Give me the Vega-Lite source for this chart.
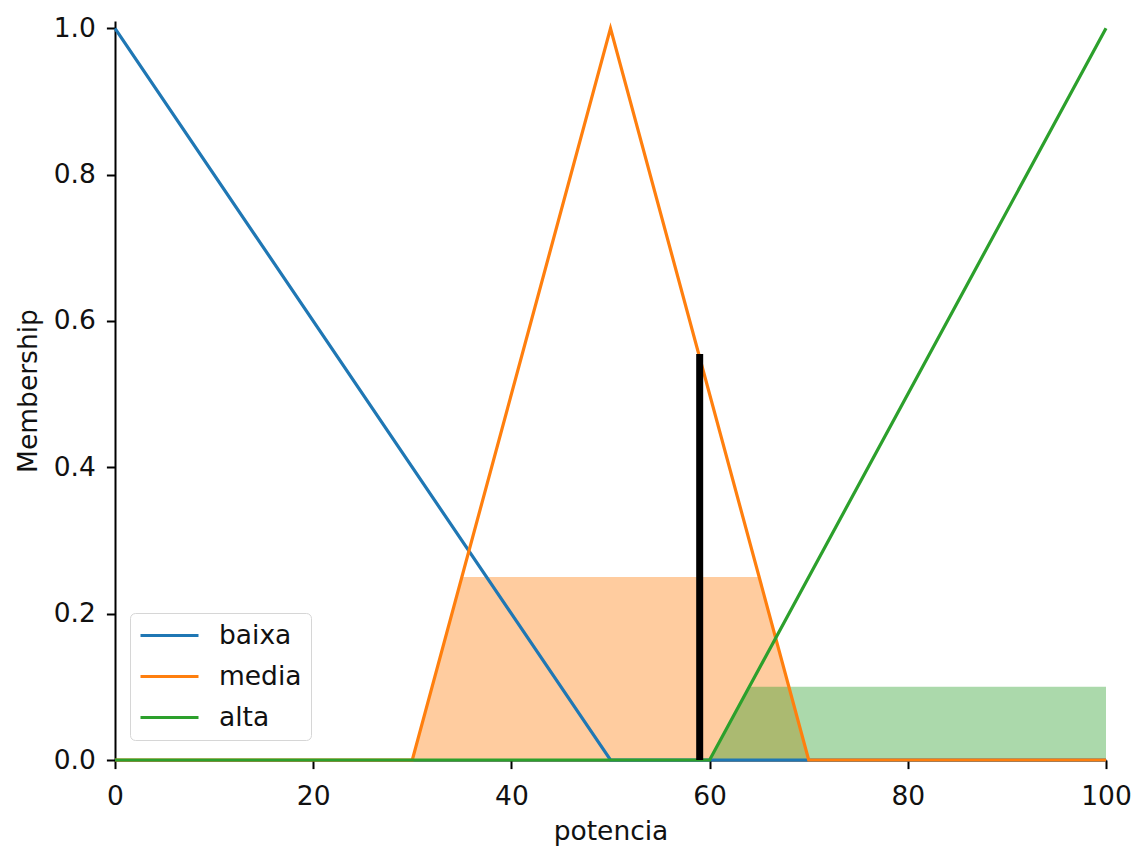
{
  "$schema": "https://vega.github.io/schema/vega-lite/v6.json",
  "width": 991,
  "height": 739,
  "autosize": {"type": "none"},
  "padding": {"left": 115, "top": 21, "right": 30, "bottom": 86},
  "background": "white",
  "config": {
    "font": "DejaVu Sans",
    "view": {"stroke": null},
    "axis": {
      "grid": false,
      "domainColor": "black",
      "domainWidth": 2,
      "tickColor": "black",
      "tickWidth": 2,
      "tickSize": 8.6,
      "labelFont": "DejaVu Sans",
      "labelFontSize": 26.5,
      "labelColor": "#111111",
      "labelFlush": false,
      "labelOverlap": false,
      "titleFont": "DejaVu Sans",
      "titleFontSize": 26.5,
      "titleFontWeight": "normal",
      "titleColor": "#111111"
    }
  },
  "datasets": {
    "lines": [
      {"term": "baixa", "x": 0, "y": 1},
      {"term": "baixa", "x": 50, "y": 0},
      {"term": "baixa", "x": 100, "y": 0},
      {"term": "media", "x": 0, "y": 0},
      {"term": "media", "x": 30, "y": 0},
      {"term": "media", "x": 50, "y": 1},
      {"term": "media", "x": 70, "y": 0},
      {"term": "media", "x": 100, "y": 0},
      {"term": "alta", "x": 0, "y": 0},
      {"term": "alta", "x": 60, "y": 0},
      {"term": "alta", "x": 100, "y": 1}
    ],
    "fills": [
      {"term": "media", "x": 30, "y": 0},
      {"term": "media", "x": 35, "y": 0.25},
      {"term": "media", "x": 65, "y": 0.25},
      {"term": "media", "x": 70, "y": 0},
      {"term": "alta", "x": 60, "y": 0},
      {"term": "alta", "x": 64, "y": 0.1},
      {"term": "alta", "x": 100, "y": 0.1}
    ],
    "crisp": [
      {"x": 59, "y": 0.555}
    ]
  },
  "layer": [
    {
      "data": {"name": "fills"},
      "transform": [{"filter": "datum.term === 'media'"}],
      "mark": {"type": "area", "color": "#ff7f0e", "opacity": 0.4},
      "encoding": {
        "x": {
          "field": "x", "type": "quantitative",
          "scale": {"domain": [0, 100], "nice": false, "zero": false},
          "axis": {"title": "potencia", "values": [0, 20, 40, 60, 80, 100], "labelPadding": 15, "titlePadding": 8}
        },
        "y": {
          "field": "y", "type": "quantitative",
          "scale": {"domain": [0, 1.01], "nice": false},
          "axis": {"title": "Membership", "values": [0, 0.2, 0.4, 0.6, 0.8, 1.0], "format": ".1f", "labelPadding": 11, "titlePadding": 11}
        }
      }
    },
    {
      "data": {"name": "fills"},
      "transform": [{"filter": "datum.term === 'alta'"}],
      "mark": {"type": "area", "color": "#2ca02c", "opacity": 0.4},
      "encoding": {
        "x": {"field": "x", "type": "quantitative"},
        "y": {"field": "y", "type": "quantitative"}
      }
    },
    {
      "data": {"name": "lines"},
      "mark": {"type": "line", "strokeWidth": 3.2},
      "encoding": {
        "x": {"field": "x", "type": "quantitative"},
        "y": {"field": "y", "type": "quantitative"},
        "color": {
          "field": "term", "type": "nominal",
          "scale": {"domain": ["baixa", "media", "alta"], "range": ["#1f77b4", "#ff7f0e", "#2ca02c"]},
          "legend": {
            "title": null,
            "orient": "none",
            "legendX": 15,
            "legendY": 592,
            "symbolType": "M-2.5,0H2.5",
            "symbolSize": 538,
            "symbolStrokeWidth": 3,
            "symbolOffset": 17,
            "labelFontSize": 26.5,
            "labelFont": "DejaVu Sans",
            "labelColor": "#111111",
            "labelOffset": 36,
            "rowPadding": 14,
            "padding": 9,
            "strokeColor": "#d6d6d6",
            "fillColor": "white",
            "cornerRadius": 5
          }
        }
      }
    },
    {
      "data": {"name": "crisp"},
      "mark": {"type": "rule", "color": "black", "strokeWidth": 7, "strokeCap": "butt"},
      "encoding": {
        "x": {"field": "x", "type": "quantitative"},
        "y": {"field": "y", "type": "quantitative"},
        "y2": {"datum": 0}
      }
    }
  ]
}
